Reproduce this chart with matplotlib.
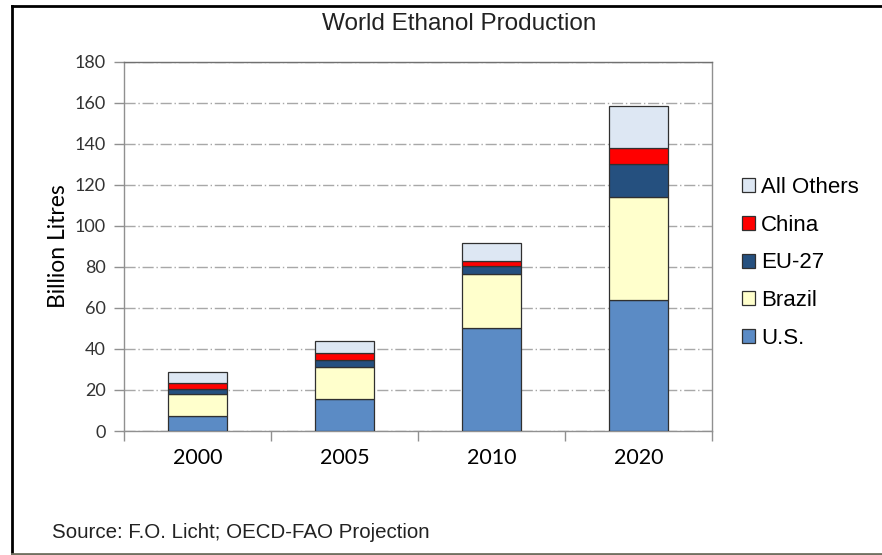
import matplotlib.pyplot as plt
from matplotlib.lines import Line2D
import numpy as np

years = ["2000", "2005", "2010", "2020"]
us = [7.3, 15.8, 50.2, 63.7]
brazil = [10.6, 15.6, 26.2, 50.3]
eu27 = [2.6, 3.2, 4.2, 16.4]
china = [2.7, 3.6, 2.3, 7.8]
others = [5.7, 5.6, 8.6, 20.5]

series = [("U.S.", us, "#5b8bc5"),
          ("Brazil", brazil, "#ffffcc"),
          ("EU-27", eu27, "#25507f"),
          ("China", china, "#ff0000"),
          ("All Others", others, "#dde7f3")]

fig = plt.figure(figsize=(8.82, 5.55), dpi=100)
ax = fig.add_axes([124 / 882, 1 - 431 / 555, 588 / 882, 369 / 555])

x = np.arange(len(years))
bottom = np.zeros(len(years))
handles = []
for name, vals, color in series:
    b = ax.bar(x, vals, 0.4, bottom=bottom, color=color, edgecolor="#303030",
               linewidth=0.9, label=name, zorder=3)
    bottom += np.array(vals)
    handles.append(b)

ax.set_xlim(-0.5, len(years) - 0.5)
ax.set_ylim(0, 180)
ax.set_xticks(x)
ax.set_xticklabels(years, fontsize=15.5, family="Lato")
ax.set_yticks(np.arange(0, 181, 20))
for lab in ax.get_yticklabels():
    lab.set_family("Lato")
    lab.set_fontsize(13)
ax.tick_params(axis="x", length=0, pad=12)
ax.tick_params(axis="y", length=7, width=1, color="#909090", pad=6, labelcolor="#333333")
# boundary ticks between categories
ax.set_xticks(np.arange(-0.5, len(years)), minor=True)
ax.tick_params(axis="x", which="minor", length=7, width=1, color="#909090")

ax.grid(axis="y", color="#a8a8a8", linestyle=(0, (8, 2, 1, 2)), linewidth=1, zorder=0)
for s in ax.spines.values():
    s.set_color("#909090")
    s.set_linewidth(1)
ax.spines["top"].set_color("#707070")

ax.set_ylabel("Billion Litres", fontsize=16.5, family="Lato", labelpad=4)

fig.text(459 / 882, 1 - 24 / 555, "World Ethanol Production", ha="center", va="center",
         fontsize=17.5, family="Liberation Sans", color="#222222")
fig.text(52 / 882, 1 - 533 / 555, "Source: F.O. Licht; OECD-FAO Projection", ha="left",
         va="center", fontsize=14.8, family="Liberation Sans", color="#222222")

leg = fig.legend(handles[::-1], [s[0] for s in series][::-1], loc="center left",
                 bbox_to_anchor=(742 / 882, 1 - 263 / 555), frameon=False,
                 prop={"family": "Liberation Sans", "size": 16},
                 handlelength=0.6, handleheight=0.6, handletextpad=0.25,
                 labelspacing=0.75, borderaxespad=0, borderpad=0)

# outer frame of the screenshot
fig.add_artist(Line2D([11.5 / 882, 11.5 / 882], [1 - 6 / 555, 1 - 553 / 555],
                      transform=fig.transFigure, color="black", linewidth=2))
fig.add_artist(Line2D([11.5 / 882, 1], [1 - 6 / 555, 1 - 6 / 555],
                      transform=fig.transFigure, color="black", linewidth=2))
fig.add_artist(Line2D([11.5 / 882, 1], [1 - 553.5 / 555, 1 - 553.5 / 555],
                      transform=fig.transFigure, color="#707060", linewidth=2))

fig.savefig("out.png", dpi=100)
